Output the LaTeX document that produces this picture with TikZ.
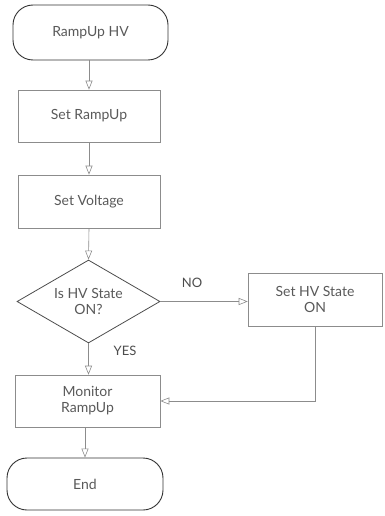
\documentclass[tikz,border=0pt]{standalone}
\usepackage{fontspec}
\setmainfont{Lato}
\usetikzlibrary{shapes.geometric,arrows.meta}
\definecolor{edgegray}{gray}{0.55}
\definecolor{txtgray}{gray}{0.35}
\tikzset{
  every node/.style={font=\fontsize{14}{16}\selectfont, text=txtgray, align=center},
  terminal/.style={draw=black!80, line width=0.9pt, rounded corners=20pt, inner sep=0pt},
  procbox/.style={draw=edgegray, line width=0.6pt, inner sep=0pt},
  decision/.style={diamond, draw=black!70, line width=0.8pt, aspect=1.75, inner sep=0pt, minimum width=143pt, minimum height=83pt},
  flow/.style={draw=edgegray, line width=0.6pt, -{Triangle[open, length=9pt, width=7pt]}},
  lbl/.style={font=\fontsize{13}{15}\selectfont, text=black!70}
}
\begin{document}
\begin{tikzpicture}[x=1pt,y=-1pt]
  \useasboundingbox (0,0) rectangle (384,516);
  \node[terminal, minimum width=155pt, minimum height=55pt] (start) at (90.5,32.5) {RampUp HV};
  \node[procbox, minimum width=142pt, minimum height=52pt] (ramp) at (89,116) {Set RampUp};
  \node[procbox, minimum width=142pt, minimum height=53pt] (volt) at (89,201.5) {Set Voltage};
  \node[decision] (dec) at (88.5,301.5) {Is HV State\\ON?};
  \node[procbox, minimum width=134pt, minimum height=53pt] (hvon) at (315,299.5) {Set HV State\\ON};
  \node[procbox, minimum width=145pt, minimum height=52pt] (mon) at (87.5,401) {Monitor\\RampUp};
  \node[terminal, minimum width=156pt, minimum height=52pt] (end) at (85,484) {End};
  \coordinate (turn) at (hvon.south |- mon.east);

  \draw[flow] (start.south -| ramp.north) -- (ramp.north);
  \draw[flow] (ramp) -- (volt);
  \draw[flow] (volt.south) -- (dec.north);
  \draw[flow] (dec.east) -- (hvon.west |- dec.east);
  \draw[flow] (dec.south) -- (mon.north -| dec.south);
  \draw[flow] (hvon.south) -- (turn) -- (mon.east);
  \draw[flow] (mon.south -| end.north) -- (end.north);

  \node[lbl] (no) at (192,283) {NO};
  \node[lbl] (yes) at (125,351) {YES};
\end{tikzpicture}
\end{document}
